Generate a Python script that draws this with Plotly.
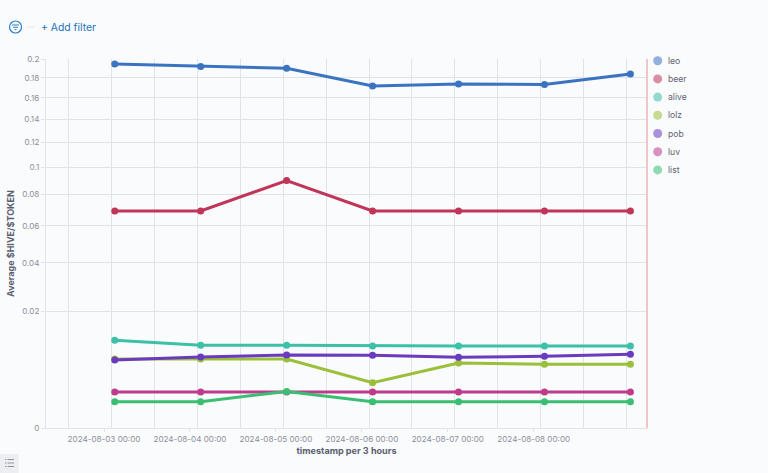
import numpy as np
import plotly.graph_objects as go

W, H = 768, 473
L, R, T, B = 45.5, 647, 59, 428

timestamps = ['2024-08-03 03:00', '2024-08-04 03:00', '2024-08-05 03:00', '2024-08-06 03:00',
              '2024-08-07 03:00', '2024-08-08 03:00', '2024-08-09 03:00']

names = ['leo', 'beer', 'alive', 'lolz', 'pob', 'luv', 'list']
colors = ['#3a73c0', '#c03558', '#3cc0a8', '#9abf3a', '#6a3abf', '#c03a8c', '#3abf72']

leo = [0.1947, 0.192, 0.19, 0.1718, 0.1739, 0.1733, 0.1841]
beer = [0.0692, 0.0692, 0.09, 0.0692, 0.0692, 0.0692, 0.0692]
alive = [0.0113, 0.01005, 0.01005, 0.0099, 0.0099, 0.0099, 0.0099]
lolz = [0.00699, 0.00699, 0.00699, 0.00301, 0.00621, 0.00596, 0.00596]
pob = [0.00679, 0.00741, 0.00783, 0.00776, 0.00734, 0.00755, 0.00798]
luv = [0.0019, 0.0019, 0.0019, 0.0019, 0.0019, 0.0019, 0.0019]
list_ = [0.00102, 0.00102, 0.00196, 0.00102, 0.00102, 0.00102, 0.00102]
series = [leo, beer, alive, lolz, pob, luv, list_]

y_ticks = [0, 0.02, 0.04, 0.06, 0.08, 0.1, 0.12, 0.14, 0.16, 0.18, 0.2]
y_labels = ['0', '0.02', '0.04', '0.06', '0.08', '0.1', '0.12', '0.14', '0.16', '0.18', '0.2']

x_range = ['2024-08-02 07:48', '2024-08-09 07:38']
x_ticks = ['2024-08-03 00:00', '2024-08-04 00:00', '2024-08-05 00:00',
           '2024-08-06 00:00', '2024-08-07 00:00', '2024-08-08 00:00']
x_grid = ['2024-08-02 14:00', '2024-08-03 02:00', '2024-08-03 14:00', '2024-08-04 02:00',
          '2024-08-04 14:00', '2024-08-05 02:00', '2024-08-05 14:00', '2024-08-06 02:00',
          '2024-08-06 14:00', '2024-08-07 02:00', '2024-08-07 14:00', '2024-08-08 02:00',
          '2024-08-08 14:00', '2024-08-09 02:00']

BG = '#fafbfd'
GRID = '#e1e3e8'
FONT = 'Inter'


def px(x):
    return (x - L) / (R - L)


def py(y):
    return (B - y) / (B - T)


fig = go.Figure()

# the real lines, on a sqrt y scale
for name, color, vals in zip(names, colors, series):
    fig.add_trace(go.Scatter(
        x=timestamps, y=np.sqrt(vals), mode='lines+markers', name=name,
        line=dict(color=color, width=3), marker=dict(color=color, size=7),
        showlegend=False, cliponaxis=False,
    ))

shapes = [
    # right edge marker
    dict(type='line', xref='paper', yref='paper', x0=1, x1=1, y0=0, y1=1,
         line=dict(color='#eeb4b4', width=1.5)),
    # filter icon
    dict(type='circle', xref='paper', yref='paper', x0=px(9), x1=px(21), y0=py(33), y1=py(21),
         line=dict(color='#2f80c4', width=1.2)),
    dict(type='line', xref='paper', yref='paper', x0=px(11.5), x1=px(18.5), y0=py(25), y1=py(25),
         line=dict(color='#2f80c4', width=1)),
    dict(type='line', xref='paper', yref='paper', x0=px(12.5), x1=px(17.5), y0=py(27.3), y1=py(27.3),
         line=dict(color='#2f80c4', width=1)),
    dict(type='line', xref='paper', yref='paper', x0=px(14), x1=px(16), y0=py(29.6), y1=py(29.6),
         line=dict(color='#2f80c4', width=1)),
    dict(type='line', xref='paper', yref='paper', x0=px(26), x1=px(34), y0=py(27), y1=py(27),
         line=dict(color='#e3e6eb', width=1)),
    # list button, bottom left
    dict(type='rect', xref='paper', yref='paper', x0=px(-2), x1=px(18), y0=py(475), y1=py(454),
         fillcolor='#eceef2', line=dict(width=0)),
]
for yy in [459.5, 463, 466.5]:
    shapes.append(dict(type='line', xref='paper', yref='paper', x0=px(7), x1=px(13.5), y0=py(yy), y1=py(yy),
                       line=dict(color='#8d93a0', width=1)))
    shapes.append(dict(type='line', xref='paper', yref='paper', x0=px(4.5), x1=px(5.8), y0=py(yy), y1=py(yy),
                       line=dict(color='#8d93a0', width=1)))

# kibana style legend: plotly's own keeps too wide a gap between dot and label
annotations = []
for i, (name, color) in enumerate(zip(names, colors)):
    cy = 60.7 + i * 18.2
    shapes.append(dict(type='circle', xref='paper', yref='paper', x0=px(653.2), x1=px(662.2),
                       y0=py(cy + 4.5), y1=py(cy - 4.5), fillcolor=color, opacity=0.55, line=dict(width=0)))
    annotations.append(dict(xref='paper', yref='paper', x=px(667), y=py(cy), text=name, showarrow=False,
                            xanchor='left', yanchor='middle', xshift=-1,
                            font=dict(family=FONT, size=8.6, color='#5f6470')))

annotations.append(dict(xref='paper', yref='paper', x=px(38), y=py(27.5), text='+ Add filter',
                        showarrow=False, xanchor='left', yanchor='middle',
                        font=dict(family=FONT, size=10.4, color='#1f72b8')))

fig.update_layout(
    width=W, height=H,
    autosize=False,
    margin=dict(l=L, r=W - R, t=T, b=H - B, pad=0),
    paper_bgcolor=BG, plot_bgcolor=BG,
    font=dict(family=FONT, size=8.1, color='#8a8f99'),
    shapes=shapes,
    annotations=annotations,
    hovermode=False,
    showlegend=False,
    xaxis=dict(
        type='date', range=x_range, automargin=False,
        tickmode='array', tickvals=x_ticks, ticktext=x_ticks,
        showgrid=False, zeroline=False,
        ticks='outside', ticklen=3, tickwidth=1, tickcolor=GRID,
        showline=True, linecolor=GRID, linewidth=1,
        tickfont=dict(size=8.1, color='#8a8f99'),
        tickangle=0,
        title=dict(text='<b>timestamp per 3 hours</b>', standoff=4,
                   font=dict(size=9.1, color='#5a6070')),
        minor=dict(tickmode='array', tickvals=x_grid, showgrid=True, gridcolor=GRID, gridwidth=1.2, ticks=''),
    ),
    yaxis=dict(
        range=[0, np.sqrt(0.2)], automargin=False,
        tickmode='array', tickvals=np.sqrt(y_ticks), ticktext=y_labels,
        showgrid=True, gridcolor=GRID, gridwidth=1, zeroline=False,
        ticks='outside', ticklen=4, tickwidth=1, tickcolor=GRID,
        showline=True, linecolor=GRID, linewidth=1,
        tickfont=dict(size=8.1, color='#8a8f99'),
        title=dict(text='<b>Average $HIVE/$TOKEN</b>', standoff=5,
                   font=dict(size=9, color='#5a6070')),
    ),
)

fig.write_html("out.html", config=dict(displayModeBar=False),
               post_script="document.body.style.margin='0';document.body.style.background='" + BG + "';")
